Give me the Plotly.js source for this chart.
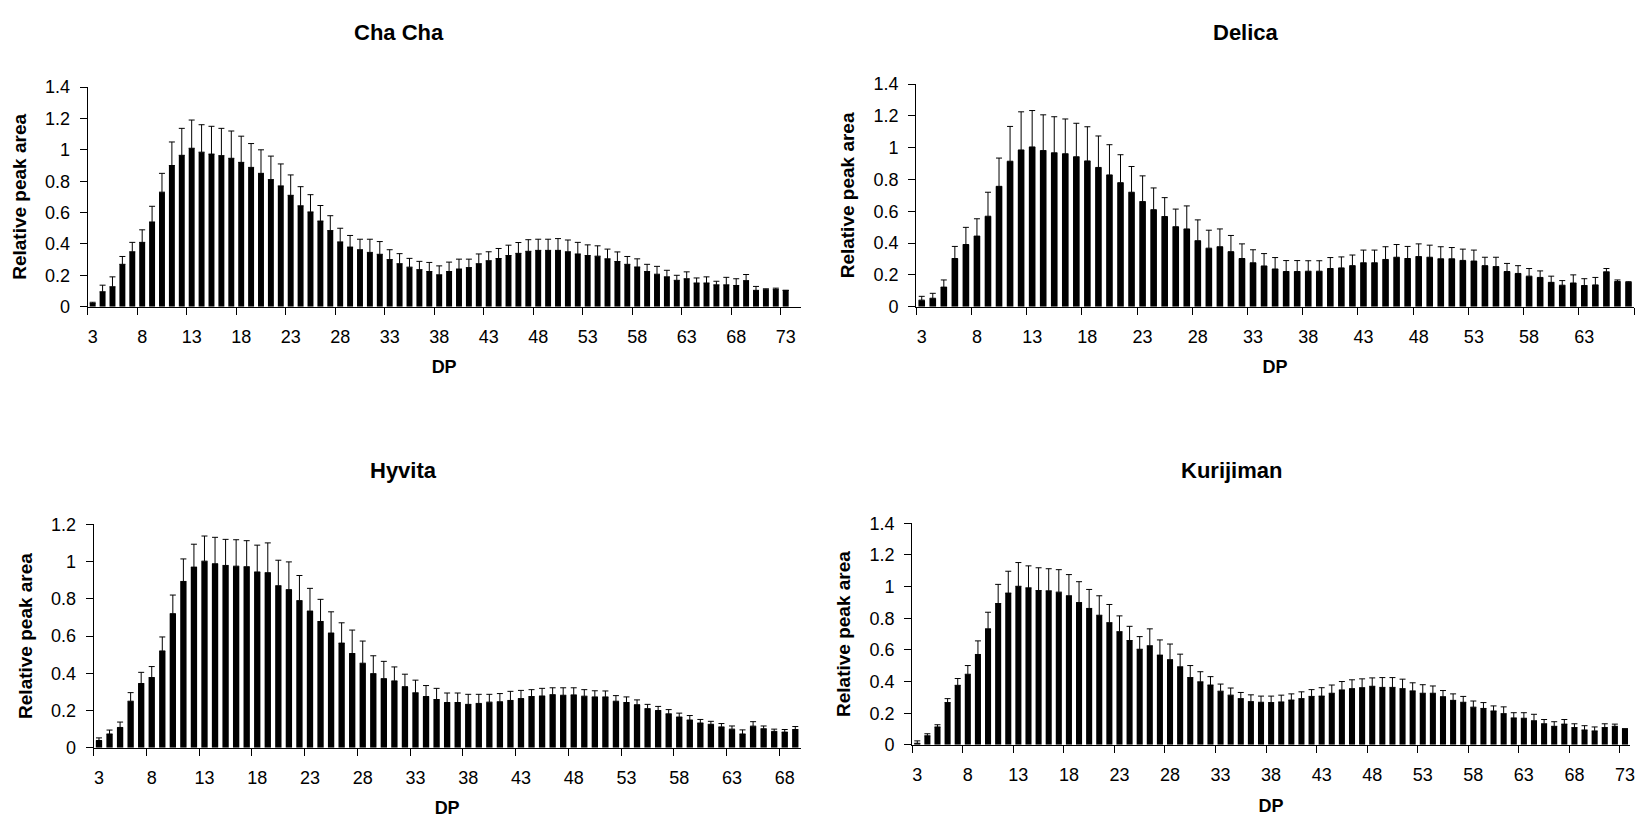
<!DOCTYPE html>
<html>
<head>
<meta charset="utf-8">
<script src="https://cdn.plot.ly/plotly-3.0.1.min.js"></script>
<style>
  html, body { margin: 0; padding: 0; background: #fff; }
  #chart { width: 1645px; height: 829px; }
</style>
</head>
<body>
<div id="chart"></div>
<script>
// ---- categories (degree of polymerisation) ----
const dpAll = [3,4,5,6,7,8,9,10,11,12,13,14,15,16,17,18,19,20,21,22,23,24,25,26,27,28,29,30,31,32,33,34,35,36,37,38,39,40,41,42,43,44,45,46,47,48,49,50,51,52,53,54,55,56,57,58,59,60,61,62,63,64,65,66,67,68,69,70,71,72,73];
const dpChaCha = dpAll;                 // DP 3-73
const dpDelica = dpAll.slice(0, 65);    // DP 3-67
const dpHyvita = dpAll.slice(0, 67);    // DP 3-69
const dpKurijiman = dpAll;              // DP 3-73

// ---- tick labels ----
const tickDP = [3,8,13,18,23,28,33,38,43,48,53,58,63,68,73];

// ---- Cha Cha ----
const chachaMean = [0.02,0.095,0.127,0.27,0.35,0.41,0.54,0.73,0.90,0.965,1.01,0.985,0.973,0.963,0.946,0.92,0.888,0.85,0.81,0.77,0.71,0.643,0.604,0.546,0.485,0.413,0.38,0.363,0.346,0.334,0.30,0.274,0.252,0.236,0.224,0.203,0.224,0.24,0.249,0.274,0.293,0.307,0.326,0.34,0.353,0.359,0.359,0.359,0.35,0.336,0.326,0.322,0.305,0.288,0.27,0.253,0.224,0.207,0.19,0.168,0.178,0.151,0.151,0.139,0.139,0.135,0.166,0.104,0.108,0.11,0.104];
const chachaSD = [0.008,0.042,0.063,0.05,0.06,0.08,0.10,0.12,0.15,0.172,0.18,0.175,0.177,0.174,0.174,0.167,0.152,0.15,0.15,0.14,0.13,0.122,0.11,0.099,0.095,0.087,0.074,0.067,0.084,0.081,0.063,0.064,0.056,0.053,0.058,0.057,0.06,0.063,0.054,0.062,0.057,0.064,0.066,0.069,0.074,0.071,0.071,0.075,0.075,0.074,0.068,0.066,0.062,0.061,0.05,0.052,0.046,0.05,0.042,0.032,0.044,0.032,0.039,0.023,0.048,0.043,0.039,0.025,0.006,0.008,0];

// ---- Delica ----
const delicaMean = [0.041,0.053,0.123,0.303,0.391,0.444,0.569,0.757,0.915,0.986,1.005,0.982,0.968,0.962,0.943,0.917,0.876,0.829,0.78,0.72,0.661,0.61,0.567,0.503,0.489,0.415,0.368,0.377,0.346,0.303,0.276,0.256,0.237,0.221,0.221,0.223,0.223,0.24,0.244,0.258,0.276,0.276,0.297,0.311,0.303,0.315,0.311,0.301,0.301,0.291,0.287,0.258,0.252,0.221,0.209,0.192,0.184,0.153,0.135,0.149,0.133,0.137,0.219,0.158,0.153];
const delicaSD = [0.024,0.031,0.045,0.076,0.108,0.109,0.151,0.178,0.219,0.24,0.229,0.225,0.227,0.219,0.211,0.215,0.198,0.19,0.176,0.162,0.162,0.137,0.119,0.111,0.145,0.131,0.113,0.112,0.102,0.092,0.082,0.078,0.072,0.069,0.069,0.066,0.066,0.069,0.069,0.067,0.08,0.08,0.08,0.08,0.076,0.08,0.076,0.076,0.071,0.071,0.069,0.053,0.059,0.051,0.049,0.048,0.041,0.039,0.029,0.051,0.043,0.047,0.021,0.01,0.004];

// ---- Hyvita ----
const hyvitaMean = [0.039,0.074,0.109,0.25,0.345,0.377,0.52,0.72,0.893,0.97,1.002,0.988,0.979,0.975,0.972,0.944,0.94,0.87,0.849,0.79,0.734,0.678,0.616,0.562,0.506,0.454,0.398,0.371,0.359,0.328,0.295,0.275,0.259,0.243,0.243,0.233,0.238,0.245,0.247,0.254,0.264,0.275,0.278,0.285,0.282,0.284,0.277,0.273,0.273,0.25,0.243,0.231,0.21,0.2,0.182,0.165,0.149,0.133,0.126,0.112,0.1,0.074,0.116,0.102,0.088,0.084,0.098];
const hyvitaSD = [0.014,0.021,0.029,0.046,0.06,0.059,0.075,0.10,0.121,0.123,0.135,0.142,0.14,0.142,0.14,0.144,0.16,0.137,0.149,0.135,0.122,0.119,0.114,0.109,0.126,0.119,0.096,0.093,0.075,0.067,0.068,0.059,0.06,0.051,0.051,0.054,0.049,0.042,0.044,0.049,0.044,0.037,0.041,0.037,0.04,0.038,0.035,0.033,0.032,0.03,0.03,0.026,0.023,0.022,0.023,0.021,0.024,0.019,0.016,0.018,0.017,0.022,0.024,0.015,0.012,0.014,0.016];

// ---- Kurijiman ----
const kurijimanMean = [0.01,0.057,0.113,0.267,0.376,0.446,0.571,0.733,0.893,0.959,1.002,0.992,0.975,0.973,0.965,0.942,0.899,0.862,0.819,0.772,0.715,0.659,0.604,0.626,0.567,0.538,0.493,0.425,0.398,0.378,0.339,0.314,0.292,0.273,0.269,0.267,0.271,0.283,0.292,0.306,0.308,0.326,0.347,0.355,0.361,0.37,0.363,0.363,0.355,0.341,0.326,0.326,0.304,0.281,0.269,0.238,0.23,0.214,0.197,0.17,0.168,0.152,0.133,0.117,0.131,0.109,0.094,0.088,0.109,0.117,0.101];
const kurijimanSD = [0.015,0.013,0.014,0.025,0.043,0.055,0.086,0.105,0.121,0.138,0.15,0.139,0.144,0.14,0.142,0.134,0.132,0.12,0.123,0.115,0.10,0.09,0.08,0.107,0.096,0.099,0.08,0.076,0.064,0.053,0.045,0.045,0.039,0.043,0.039,0.041,0.043,0.039,0.043,0.043,0.053,0.052,0.053,0.056,0.056,0.053,0.062,0.062,0.06,0.051,0.054,0.046,0.039,0.041,0.037,0.039,0.037,0.032,0.043,0.033,0.035,0.041,0.027,0.029,0.029,0.024,0.027,0.025,0.024,0.014,0];

const panelTitles = ['Cha Cha', 'Delica', 'Hyvita', 'Kurijiman'];

// ---- styles ----
const FONT = 'Liberation Sans, Arial, Helvetica, sans-serif';
const BLACK = '#000000';

function barTrace(x, y, sd, xa, ya) {
  return {
    type: 'bar', x: x, y: y, xaxis: xa, yaxis: ya,
    marker: { color: BLACK, line: { width: 0 } },
    error_y: {
      type: 'data', symmetric: false, array: sd,
      arrayminus: sd.map(() => 0),
      color: BLACK, thickness: 1, width: 3
    },
    hoverinfo: 'x+y', showlegend: false
  };
}

const data = [
  barTrace(dpChaCha, chachaMean, chachaSD, 'x', 'y'),
  barTrace(dpDelica, delicaMean, delicaSD, 'x2', 'y2'),
  barTrace(dpHyvita, hyvitaMean, hyvitaSD, 'x3', 'y3'),
  barTrace(dpKurijiman, kurijimanMean, kurijimanSD, 'x4', 'y4')
];

const W = 1645, H = 829;
function px(v) { return v / W; }
function py(v) { return 1 - v / H; }

function xAxis(domain, maxRange, anchor) {
  return {
    domain: domain, anchor: anchor, range: [2.5, maxRange],
    tickmode: 'array', tickvals: tickDP, ticks: '',
    ticklabelstandoff: 14,
    tickfont: { family: FONT, size: 18, color: BLACK },
    minor: { tickmode: 'linear', tick0: 2.5, dtick: 5, ticks: 'outside', ticklen: 7, tickwidth: 1, tickcolor: BLACK, showgrid: false },
    showline: true, linecolor: BLACK, linewidth: 1,
    showgrid: false, zeroline: false, fixedrange: true,
    automargin: true,
    title: { text: 'DP', font: { family: FONT, size: 18, color: BLACK, weight: 'bold' }, standoff: 14 }
  };
}
function yAxis(domain, maxRange, anchor) {
  return {
    domain: domain, anchor: anchor, range: [0, maxRange],
    tickmode: 'linear', tick0: 0, dtick: 0.2,
    ticks: 'outside', ticklen: 7, tickwidth: 1, tickcolor: BLACK,
    ticklabelstandoff: 6,
    tickfont: { family: FONT, size: 18, color: BLACK },
    showline: true, linecolor: BLACK, linewidth: 1,
    showgrid: false, zeroline: false, fixedrange: true,
    automargin: true,
    title: { text: 'Relative peak area', font: { family: FONT, size: 19, color: BLACK, weight: 'bold' }, standoff: 13 }
  };
}

const layout = {
  width: W, height: H,
  margin: { l: 0, r: 0, t: 0, b: 0, pad: 0 },
  paper_bgcolor: '#ffffff', plot_bgcolor: '#ffffff',
  bargap: 0.4,
  showlegend: false,
  font: { family: FONT, color: BLACK },
  xaxis:  xAxis([px(88), px(803)], 74.5, 'y'),
  yaxis:  yAxis([py(304), py(79)], 1.4, 'x'),
  xaxis2: xAxis([px(919), px(1639)], 67.5, 'y2'),
  yaxis2: yAxis([py(304), py(76)], 1.4, 'x2'),
  xaxis3: xAxis([px(94), px(803)], 69.5, 'y3'),
  yaxis3: yAxis([py(756), py(527)], 1.2, 'x3'),
  xaxis4: xAxis([px(915), px(1635)], 73.5, 'y4'),
  yaxis4: yAxis([py(753), py(526)], 1.4, 'x4'),
  annotations: [
    { text: panelTitles[0], x: px(400), y: py(23) },
    { text: panelTitles[1], x: px(1250), y: py(23) },
    { text: panelTitles[2], x: px(405), y: py(472) },
    { text: panelTitles[3], x: px(1235), y: py(472) }
  ].map(a => Object.assign(a, {
    xref: 'paper', yref: 'paper', xanchor: 'center', yanchor: 'middle',
    showarrow: false, font: { family: FONT, size: 22, color: BLACK, weight: 'bold' }
  }))
};

Plotly.newPlot('chart', data, layout, { displayModeBar: false, staticPlot: true });
</script>
</body>
</html>
